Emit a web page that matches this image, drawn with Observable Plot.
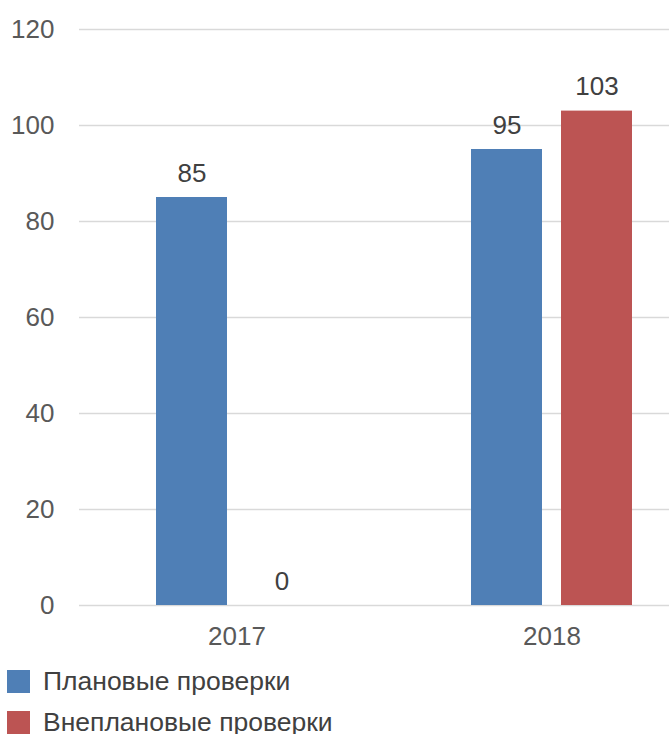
<!DOCTYPE html>
<html>
<head>
<meta charset="utf-8">
<script src="https://cdn.jsdelivr.net/npm/d3@7"></script>
<script src="https://cdn.jsdelivr.net/npm/@observablehq/plot@0.6"></script>
<style>
  html, body { margin: 0; padding: 0; background: #fff; overflow: hidden; }
  #wrap { position: relative; width: 669px; height: 734px; overflow: hidden; }
  #chart { position: absolute; left: 0; top: 0; width: 709px; }
  #chart svg { max-width: none !important; width: 709px !important; height: 660px !important; }
  #legend { position: absolute; left: 7px; top: 661px; font-family: "Liberation Sans", Arial, sans-serif; font-size: 26.5px; color: #404040; }
  .item { display: flex; align-items: center; height: 41px; white-space: nowrap; }
  .sw { width: 23px; height: 23px; margin-right: 13px; flex: none; }
</style>
</head>
<body>
<div id="wrap">
  <div id="chart"></div>
  <div id="legend"></div>
</div>
<script>
const years = ["2017", "2018"];
const seriesNames = ["Плановые проверки", "Внеплановые проверки"];
const planned = [85, 95];
const unplanned = [0, 103];
const colors = ["#4f7fb6", "#bc5453"];
const yTicks = [0, 20, 40, 60, 80, 100, 120];

const data = years.flatMap((y, i) => [
  {year: y, series: seriesNames[0], value: planned[i]},
  {year: y, series: seriesNames[1], value: unplanned[i]}
]);

const chart = Plot.plot({
  width: 709,
  height: 660,
  marginLeft: 79,
  marginRight: 0,
  marginTop: 29,
  marginBottom: 55,
  style: {fontFamily: "'Liberation Sans', Arial, sans-serif", fontSize: "26px", color: "#595959", background: "#fff"},
  fx: {domain: years, paddingInner: 0, paddingOuter: 0, label: null, axis: "bottom", tickSize: 0, tickPadding: 21},
  x: {domain: seriesNames, paddingInner: 0.211, paddingOuter: 0.855, axis: null},
  y: {domain: [0, 120], ticks: yTicks, label: null, axis: null},
  color: {domain: seriesNames, range: colors},
  marks: [
    Plot.gridY(yTicks, {stroke: "#d9d9d9", strokeOpacity: 1, strokeWidth: 1.3}),
    Plot.axisY(yTicks, {tickSize: 0, tickPadding: 25, label: null, fill: "#595959"}),
    Plot.barY(data, {fx: "year", x: "series", y: "value", fill: "series"}),
    Plot.text(data, {fx: "year", x: "series", y: "value", text: d => String(d.value), lineAnchor: "bottom", dy: -16, fill: "#404040", fontSize: 26})
  ]
});
document.getElementById("chart").appendChild(chart);

const legend = document.getElementById("legend");
seriesNames.forEach((name, i) => {
  const it = document.createElement("div");
  it.className = "item";
  const sw = document.createElement("span");
  sw.className = "sw";
  sw.style.background = colors[i];
  const tx = document.createElement("span");
  tx.textContent = name;
  it.appendChild(sw);
  it.appendChild(tx);
  legend.appendChild(it);
});
</script>
</body>
</html>
